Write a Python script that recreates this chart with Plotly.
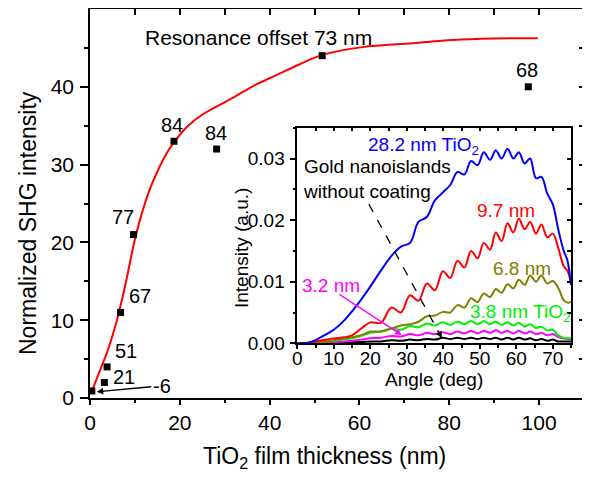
import plotly.graph_objects as go

# ---------------- data ----------------
thickness = [0.4, 3.2, 3.8, 6.8, 9.7, 18.7, 28.2, 51.7, 97.6]
shg = [0.9, 2.0, 4.0, 11.0, 21.0, 33.0, 32.0, 44.0, 40.0]
point_labels = ["-6", "21", "51", "67", "77", "84", "84", "Resonance offset 73 nm", "68"]

fit_x = [0.5, 2, 4, 6, 8, 10, 12, 14, 17, 18.5, 21.5, 25.2, 31.9, 36.3, 41.5, 46.7, 51.7, 60.7, 71.9, 80.7, 89.6, 99.7]
fit_y = [1.0, 3.2, 6.2, 10.0, 14.9, 20.4, 24.6, 27.8, 31.4, 32.7, 34.8, 36.5, 38.6, 40.1, 41.5, 42.9, 44.1, 45.1, 45.6, 46.0, 46.2, 46.25]

angle = [0, 3, 5, 8, 10, 13, 15, 17.5,
         20.0, 22.9, 25.8, 28.4, 30.9, 33.2, 35.5, 37.7, 39.9, 41.9, 43.9, 45.8, 47.6, 49.4,
         51.1, 52.8, 54.4, 56.0, 57.6, 59.2, 60.7, 62.3, 63.8, 65.4, 66.9, 68.5, 70.0,
         71.5, 73.0, 74.0, 75.0]

i_28_2 = [0, 0.0001, 0.0005, 0.0015, 0.0022, 0.0038, 0.0052, 0.0071,
          0.0092, 0.0118, 0.0142, 0.0157, 0.0163, 0.0197, 0.0205, 0.0232, 0.0245, 0.0257, 0.0278, 0.0274, 0.0296, 0.0289,
          0.0310, 0.0298, 0.0313, 0.0300, 0.0316, 0.0300, 0.0310, 0.0292, 0.0300, 0.0268, 0.0270, 0.0243, 0.0226,
          0.0185, 0.0150, 0.0135, 0.0095]
i_9_7 = [0, 0.0001, 0.0003, 0.0006, 0.0008, 0.0010, 0.0013, 0.0024,
         0.0034, 0.0033, 0.0058, 0.0050, 0.0078, 0.0069, 0.0097, 0.0086, 0.0117, 0.0106, 0.0134, 0.0123, 0.0150, 0.0138,
         0.0163, 0.0152, 0.0180, 0.0166, 0.0195, 0.0180, 0.0202, 0.0185, 0.0197, 0.0178, 0.0193, 0.0172, 0.0178,
         0.0155, 0.0125, 0.0118, 0.0098]
i_6_8 = [0, 0, 0.0001, 0.0003, 0.0005, 0.0008, 0.0010, 0.0013,
         0.0019, 0.0019, 0.0024, 0.0029, 0.0031, 0.0035, 0.0044, 0.0045, 0.0051, 0.0050, 0.0062, 0.0058, 0.0073, 0.0067,
         0.0081, 0.0075, 0.0088, 0.0082, 0.0096, 0.0089, 0.0103, 0.0095, 0.0110, 0.0100, 0.0110, 0.0097, 0.0101,
         0.0090, 0.0070, 0.0066, 0.0067]
i_3_8 = [0, 0, 0.0001, 0.0003, 0.0004, 0.0006, 0.0008, 0.0012,
         0.0017, 0.0019, 0.0024, 0.0022, 0.0028, 0.0026, 0.0032, 0.0029, 0.0034, 0.0030, 0.0035, 0.0031, 0.0036, 0.0031,
         0.0036, 0.0031, 0.0035, 0.0030, 0.0034, 0.0029, 0.0033, 0.0027, 0.0031, 0.0025, 0.0027, 0.0021, 0.0022,
         0.0013, 0.0009, 0.0008, 0.0009]
i_3_2 = [0, 0, 0, 0.0001, 0.0002, 0.0003, 0.0004, 0.0006,
         0.0008, 0.0009, 0.0012, 0.0011, 0.0015, 0.0013, 0.0017, 0.0015, 0.0018, 0.0015, 0.0019, 0.0016, 0.0020, 0.0016,
         0.0020, 0.0017, 0.0021, 0.0017, 0.0020, 0.0016, 0.0020, 0.0016, 0.0019, 0.0015, 0.0017, 0.0013, 0.0015,
         0.0010, 0.0008, 0.0007, 0.0007]
i_bare = [0, 0, 0, 0, 0.0001, 0.0001, 0.0002, 0.0002,
          0.0003, 0.0003, 0.0005, 0.0004, 0.0006, 0.0005, 0.0007, 0.0006, 0.0009, 0.0007, 0.0009, 0.0007, 0.0009, 0.0007,
          0.0009, 0.0007, 0.0009, 0.0006, 0.0009, 0.0006, 0.0009, 0.0006, 0.0008, 0.0005, 0.0007, 0.0004, 0.0006,
          0.0003, 0.0003, 0.0003, 0.0003]

main_xticks = [0, 20, 40, 60, 80, 100]
main_yticks = [0, 10, 20, 30, 40]
inset_xticks = [0, 10, 20, 30, 40, 50, 60, 70]
inset_yticks = [0, 0.01, 0.02, 0.03]
inset_yticktext = ["0.00", "0.01", "0.02", "0.03"]

# ---------------- figure ----------------
# page has an 8px body margin: figure is drawn at (8, 8) in a 590x477 window
OFF = 8
W, H = 590 - OFF, 477 - OFF
FONT = "Liberation Sans, Arial, sans-serif"

def px2paper(px, py):
    return (px - OFF) / W, 1 - (py - OFF) / H

fig = go.Figure()

fig.add_trace(go.Scatter(x=fit_x, y=fit_y, mode="lines", line=dict(color="#ff0000", width=2, shape="spline"),
                         xaxis="x", yaxis="y", showlegend=False, hoverinfo="skip"))
fig.add_trace(go.Scatter(x=thickness, y=shg, mode="markers",
                         marker=dict(symbol="square", size=7, color="black"),
                         xaxis="x", yaxis="y", showlegend=False, cliponaxis=False))
fig.add_trace(go.Scatter(x=[], y=[], xaxis="x2", yaxis="y2", showlegend=False))

series = [(i_bare, "black"), (i_3_2, "#ff00ff"), (i_3_8, "#00f000"), (i_6_8, "#808000"),
          (i_9_7, "#ff0000"), (i_28_2, "#0000ff")]
for ys, col in series:
    fig.add_trace(go.Scatter(x=angle, y=ys, mode="lines",
                             line=dict(color=col, width=2, shape="spline", smoothing=1.0),
                             xaxis="x3", yaxis="y3", showlegend=False))
fig.add_trace(go.Scatter(x=[], y=[], xaxis="x4", yaxis="y4", showlegend=False))

axcommon = dict(showline=True, linecolor="black", linewidth=1.5, showgrid=False, zeroline=False,
                tickcolor="black", tickwidth=1.5)

x0, y0 = px2paper(90, 398)
x1, y1 = px2paper(584, 9)
main_xdom, main_ydom = [x0, x1], [y0, y1]
x0, y0 = px2paper(297.3, 343.3)
x1, y1 = px2paper(571, 127.7)
ins_xdom, ins_ydom = [x0, x1], [y0, y1]

fig.update_layout(
    width=W, height=H, margin=dict(l=0, r=0, t=0, b=0, autoexpand=False),
    paper_bgcolor="white", plot_bgcolor="white",
    font=dict(family=FONT, color="black"),
    xaxis=dict(domain=main_xdom, range=[0, 110], anchor="y", tickvals=main_xticks, ticks="outside",
               ticklen=5, tickfont=dict(size=21), ticklabelstandoff=0,
               minor=dict(tickvals=[10, 30, 50, 70, 90], ticks="outside", ticklen=3, tickcolor="black", tickwidth=1.5),
               **axcommon),
    yaxis=dict(domain=main_ydom, range=[0, 50], anchor="x", tickvals=main_yticks, ticks="outside",
               ticklen=8, tickfont=dict(size=21), ticklabelstandoff=2,
               minor=dict(tickvals=[5, 15, 25, 35, 45], ticks="outside", ticklen=4, tickcolor="black", tickwidth=1.5),
               **axcommon),
    xaxis2=dict(overlaying="x", matches="x", side="top", anchor="y", tickvals=list(range(0, 111, 10)),
                ticks="inside", ticklen=6, showticklabels=False, **axcommon),
    yaxis2=dict(overlaying="y", matches="y", side="right", anchor="x", tickvals=list(range(0, 51, 5)),
                ticks="inside", ticklen=5, showticklabels=False, **axcommon),
    xaxis3=dict(domain=ins_xdom, range=[0, 75], anchor="y3", tickvals=inset_xticks, ticks="outside",
                ticklen=4, tickfont=dict(size=19), ticklabelstandoff=-7,
                minor=dict(tickvals=[5, 15, 25, 35, 45, 55, 65, 75], ticks="outside", ticklen=3, tickcolor="black", tickwidth=1.5),
                **axcommon),
    yaxis3=dict(domain=ins_ydom, range=[0, 0.035], anchor="x3", tickvals=inset_yticks, ticktext=inset_yticktext,
                ticks="outside", ticklen=6, tickfont=dict(size=19), ticklabelstandoff=1,
                minor=dict(tickvals=[0.005, 0.015, 0.025, 0.035], ticks="outside", ticklen=3, tickcolor="black", tickwidth=1.5),
                **axcommon),
    xaxis4=dict(overlaying="x3", matches="x3", side="top", anchor="y3", tickvals=list(range(0, 76, 5)),
                ticks="inside", ticklen=4, showticklabels=False, **axcommon),
    yaxis4=dict(overlaying="y3", matches="y3", side="right", anchor="x3", tickvals=[0, 0.005, 0.01, 0.015, 0.02, 0.025, 0.03, 0.035],
                ticks="inside", ticklen=4, showticklabels=False, **axcommon),
)

C = dict(xanchor="center", yanchor="middle")
ann = []
# axis titles
x, y = px2paper(28, 223)
ann.append(dict(x=x, y=y, xref="paper", yref="paper", text="Normalized SHG intensity", textangle=-90,
                showarrow=False, font=dict(size=23), **C))
x, y = px2paper(324, 457)
ann.append(dict(x=x, y=y, xref="paper", yref="paper", text="TiO<sub>2</sub> film thickness (nm)",
                showarrow=False, font=dict(size=23), **C))
x, y = px2paper(241, 248)
ann.append(dict(x=x, y=y, xref="paper", yref="paper", text="Intensity (a.u.)", textangle=-90,
                showarrow=False, font=dict(size=19), **C))
x, y = px2paper(434, 379)
ann.append(dict(x=x, y=y, xref="paper", yref="paper", text="Angle (deg)", showarrow=False, font=dict(size=19), **C))

# point labels (pixel offsets from their points)
offsets = [None, (19.7, 5.7), (19.4, 15.5), (19, 16), (-11, 17.5), (-2, 16), (-0.7, 15.7), (-63.7, 18), (-1, 16.5)]
for xv, yv, lab, off in zip(thickness, shg, point_labels, offsets):
    if off is None:
        continue
    ann.append(dict(x=xv, y=yv, xref="x", yref="y", text=lab, showarrow=False, xshift=off[0], yshift=off[1],
                    font=dict(size=21 if len(lab) > 3 else 20), **C))
# "-6" with arrow to first point
ann.append(dict(x=1.5, y=0.8, xref="x", yref="y", text=point_labels[0], showarrow=True, ax=65, ay=-6,
                arrowhead=2, arrowsize=1, arrowwidth=1.3, arrowcolor="black", font=dict(size=20)))

# inset labels
ann.append(dict(x=18.8, y=0.0321, xref="x3", yref="y3", text="28.2 nm TiO<sub>2</sub>", xanchor="left",
                yanchor="middle", showarrow=False, font=dict(size=19, color="#0000ff")))
ann.append(dict(x=1.0, y=0.0267, xref="x3", yref="y3", text="Gold nanoislands<br>without coating", xanchor="left",
                yanchor="middle", align="left", showarrow=False, font=dict(size=19, color="black")))
ann.append(dict(x=57.2, y=0.0216, xref="x3", yref="y3", text="9.7 nm", showarrow=False,
                font=dict(size=19, color="#ff0000"), **C))
ann.append(dict(x=61.6, y=0.0122, xref="x3", yref="y3", text="6.8 nm", showarrow=False,
                font=dict(size=19, color="#808000"), **C))
ann.append(dict(x=46.8, y=0.0049, xref="x3", yref="y3", text="3.8 nm TiO<sub>2</sub>", xanchor="left",
                yanchor="middle", showarrow=False, font=dict(size=19, color="#00f000")))
ann.append(dict(x=9.2, y=0.00945, xref="x3", yref="y3", text="3.2 nm", showarrow=False,
                font=dict(size=19, color="#ff00ff"), **C))
# magenta arrow
ann.append(dict(x=28.6, y=0.00134, ax=11.1, ay=0.0081, xref="x3", yref="y3", axref="x3", ayref="y3",
                text="", showarrow=True, arrowhead=2, arrowsize=1, arrowwidth=1.3, arrowcolor="#ff00ff"))
# dashed arrow head
ann.append(dict(x=39.6, y=0.00086, xref="x3", yref="y3", text="", showarrow=True, ax=-4.8, ay=-8.8,
                arrowhead=2, arrowsize=1, arrowwidth=1.3, arrowcolor="black"))
fig.update_layout(annotations=ann)

fig.add_shape(type="line", xref="x3", yref="y3", x0=19.6, y0=0.0226, x1=39.3, y1=0.0012,
              line=dict(color="black", width=1.3, dash="dash"))

fig.write_html("out.html")
